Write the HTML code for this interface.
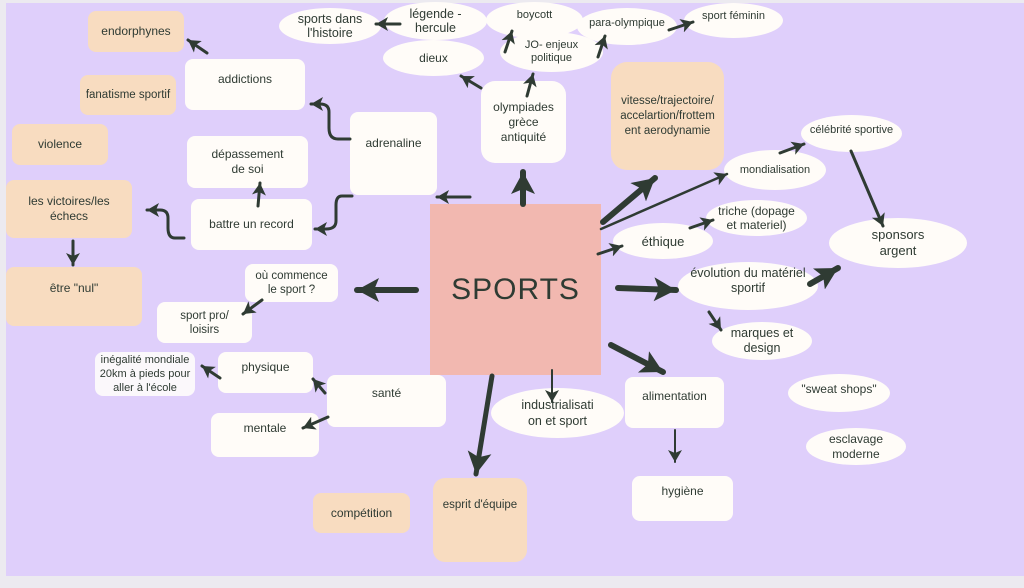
<!DOCTYPE html>
<html><head><meta charset="utf-8">
<style>
html,body{margin:0;padding:0}
body{width:1024px;height:588px;position:relative;overflow:hidden;background:#eceaf0;font-family:"Liberation Sans",sans-serif;color:#2f3b33}
#cv{position:absolute;left:6px;top:3px;width:1018px;height:573px;background:#dfcffb}
.n{position:absolute;display:flex;align-items:center;justify-content:center;text-align:center;font-size:12px;line-height:15px;box-sizing:border-box}
.w{background:#fffcf8;border-radius:8px}
.p{background:#f8dcc0;border-radius:8px}
.e{background:#fffcf8;border-radius:50%}
svg{position:absolute;left:0;top:0}
</style></head><body>
<div id="cv"></div>

<div class="n p" style="left:88px;top:11px;width:96px;height:41px">endorphynes</div>
<div class="n w" style="left:185px;top:59px;width:120px;height:51px;align-items:flex-start;padding-top:13px">addictions</div>
<div class="n p" style="left:80px;top:75px;width:96px;height:40px;font-size:11.5px">fanatisme sportif</div>
<div class="n p" style="left:12px;top:124px;width:96px;height:41px">violence</div>
<div class="n p" style="left:6px;top:180px;width:126px;height:58px">les victoires/les<br>échecs</div>
<div class="n p" style="left:6px;top:267px;width:136px;height:59px;align-items:flex-start;padding-top:14px">être "nul"</div>
<div class="n w" style="left:187px;top:136px;width:121px;height:52px">dépassement<br>de soi</div>
<div class="n w" style="left:191px;top:199px;width:121px;height:51px">battre un record</div>
<div class="n w" style="left:350px;top:112px;width:87px;height:83px;align-items:flex-start;padding-top:24px">adrenaline</div>

<div class="n e" style="left:279px;top:8px;width:102px;height:36px;font-size:12.5px;line-height:14px">sports dans<br>l'histoire</div>
<div class="n e" style="left:384px;top:2px;width:103px;height:38px;font-size:12.5px;line-height:14px">légende -<br>hercule</div>
<div class="n e" style="left:383px;top:40px;width:101px;height:36px">dieux</div>
<div class="n e" style="left:486px;top:2px;width:97px;height:36px;font-size:11px;align-items:flex-start;padding-top:6px">boycott</div>
<div class="n e" style="left:500px;top:32px;width:103px;height:40px;font-size:11px;line-height:13px">JO- enjeux<br>politique</div>
<div class="n e" style="left:577px;top:8px;width:100px;height:37px;font-size:11px;align-items:flex-start;padding-top:8px">para-olympique</div>
<div class="n e" style="left:684px;top:3px;width:99px;height:35px;font-size:11px;align-items:flex-start;padding-top:6px">sport féminin</div>

<div class="n w" style="left:481px;top:81px;width:85px;height:82px;border-radius:14px;line-height:15px">olympiades<br>grèce<br>antiquité</div>
<div class="n p" style="left:611px;top:62px;width:113px;height:108px;border-radius:16px;font-size:11.5px;line-height:15px">vitesse/trajectoire/<br>accelartion/frottem<br>ent aerodynamie</div>

<div class="n" style="left:430px;top:204px;width:171px;height:171px;background:#f2b8b0;font-size:30px;letter-spacing:1px">SPORTS</div>

<div class="n e" style="left:724px;top:150px;width:102px;height:40px;font-size:11px">mondialisation</div>
<div class="n e" style="left:801px;top:115px;width:101px;height:37px;font-size:11px;align-items:flex-start;padding-top:8px">célébrité sportive</div>
<div class="n e" style="left:706px;top:200px;width:101px;height:36px;font-size:12px;line-height:14px">triche (dopage<br>et materiel)</div>
<div class="n e" style="left:613px;top:223px;width:100px;height:36px;font-size:13px">éthique</div>
<div class="n e" style="left:829px;top:218px;width:138px;height:50px;font-size:13px;line-height:16px">sponsors<br>argent</div>
<div class="n e" style="left:678px;top:262px;width:140px;height:48px;font-size:12.5px;line-height:15px;align-items:flex-start;padding-top:4px">évolution du matériel<br>sportif</div>
<div class="n e" style="left:712px;top:322px;width:100px;height:38px;font-size:12.5px;line-height:15px">marques et<br>design</div>
<div class="n e" style="left:788px;top:374px;width:102px;height:38px;font-size:12px;align-items:flex-start;padding-top:8px">"sweat shops"</div>
<div class="n e" style="left:806px;top:428px;width:100px;height:37px;font-size:12px;line-height:15px">esclavage<br>moderne</div>

<div class="n w" style="left:625px;top:377px;width:99px;height:51px;align-items:flex-start;padding-top:12px">alimentation</div>
<div class="n w" style="left:632px;top:476px;width:101px;height:45px;align-items:flex-start;padding-top:8px">hygiène</div>
<div class="n e" style="left:491px;top:388px;width:133px;height:50px;font-size:12.5px;line-height:16px">industrialisati<br>on et sport</div>
<div class="n p" style="left:433px;top:478px;width:94px;height:84px;border-radius:12px;align-items:flex-start;padding-top:20px;font-size:11.5px">esprit d'équipe</div>
<div class="n p" style="left:313px;top:493px;width:97px;height:40px">compétition</div>
<div class="n w" style="left:327px;top:375px;width:119px;height:52px;align-items:flex-start;padding-top:11px">santé</div>
<div class="n w" style="left:218px;top:352px;width:95px;height:41px;align-items:flex-start;padding-top:8px">physique</div>
<div class="n w" style="left:211px;top:413px;width:108px;height:44px;align-items:flex-start;padding-top:8px">mentale</div>
<div class="n w" style="left:95px;top:352px;width:100px;height:44px;background:#fbf8fb;font-size:11px;line-height:14px">inégalité mondiale<br>20km à pieds pour<br>aller à l'école</div>
<div class="n w" style="left:245px;top:264px;width:93px;height:38px;font-size:11.5px;line-height:14px">où commence<br>le sport ?</div>
<div class="n w" style="left:157px;top:302px;width:95px;height:41px;font-size:11.5px;line-height:14px">sport pro/<br>loisirs</div>

<svg width="1024" height="588" viewBox="0 0 1024 588">
<defs>
<marker id="b" markerUnits="userSpaceOnUse" markerWidth="26" markerHeight="26" refX="22" refY="12" orient="auto"><path d="M0,0 L22,12 L0,24 L5,12 Z" fill="#2f3b33"/></marker>
<marker id="s" markerUnits="userSpaceOnUse" markerWidth="14" markerHeight="14" refX="12" refY="7" orient="auto"><path d="M0,0 L12,7 L0,14 L3,7 Z" fill="#2f3b33"/></marker>
</defs>
<g stroke="#2f3b33" fill="none" stroke-linecap="round">
<g stroke-width="6" marker-end="url(#b)">
<line x1="523" y1="204" x2="523" y2="172"/>
<line x1="416" y1="290" x2="357" y2="290"/>
<line x1="603" y1="222" x2="655" y2="178"/>
<line x1="618" y1="288" x2="676" y2="290"/>
<line x1="611" y1="345" x2="663" y2="372"/>
<line x1="492" y1="376" x2="476" y2="474" stroke-width="5"/>
<line x1="810" y1="284" x2="838" y2="268"/>
</g>
<g stroke-width="3" marker-end="url(#s)">
<line x1="470" y1="197" x2="437" y2="197"/>
<line x1="598" y1="254" x2="622" y2="246"/>
<line x1="690" y1="228" x2="713" y2="220"/>
<line x1="780" y1="153" x2="804" y2="144"/>
<line x1="851" y1="151" x2="883" y2="226"/>
<line x1="709" y1="312" x2="721" y2="330"/>
<line x1="552" y1="370" x2="552" y2="402" stroke-width="2"/>
<line x1="675" y1="430" x2="675" y2="462" stroke-width="2"/>
<line x1="325" y1="393" x2="313" y2="379"/>
<line x1="328" y1="417" x2="303" y2="428"/>
<line x1="220" y1="378" x2="202" y2="366"/>
<line x1="262" y1="300" x2="243" y2="314"/>
<line x1="258" y1="206" x2="260" y2="183"/>
<line x1="207" y1="53" x2="188" y2="40"/>
<line x1="481" y1="88" x2="461" y2="76"/>
<line x1="527" y1="96" x2="533" y2="74"/>
<line x1="400" y1="24" x2="376" y2="24"/>
<line x1="505" y1="52" x2="512" y2="31"/>
<line x1="598" y1="57" x2="605" y2="36"/>
<line x1="669" y1="30" x2="693" y2="22"/>
<line x1="73" y1="241" x2="73" y2="265"/>
<line x1="601" y1="229" x2="727" y2="174" stroke-width="2.5"/>
<path d="M350,139 L338,139 Q329,139 329,128 L329,112 Q329,104 320,104 L311,104"/>
<path d="M352,196 L342,196 Q336,196 336,205 L336,221 Q336,229 326,229 L315,229"/>
<path d="M184,238 L175,238 Q168,238 168,228 L168,218 Q168,210 160,210 L147,210"/>
</g>
</g>
</svg>
</body></html>
